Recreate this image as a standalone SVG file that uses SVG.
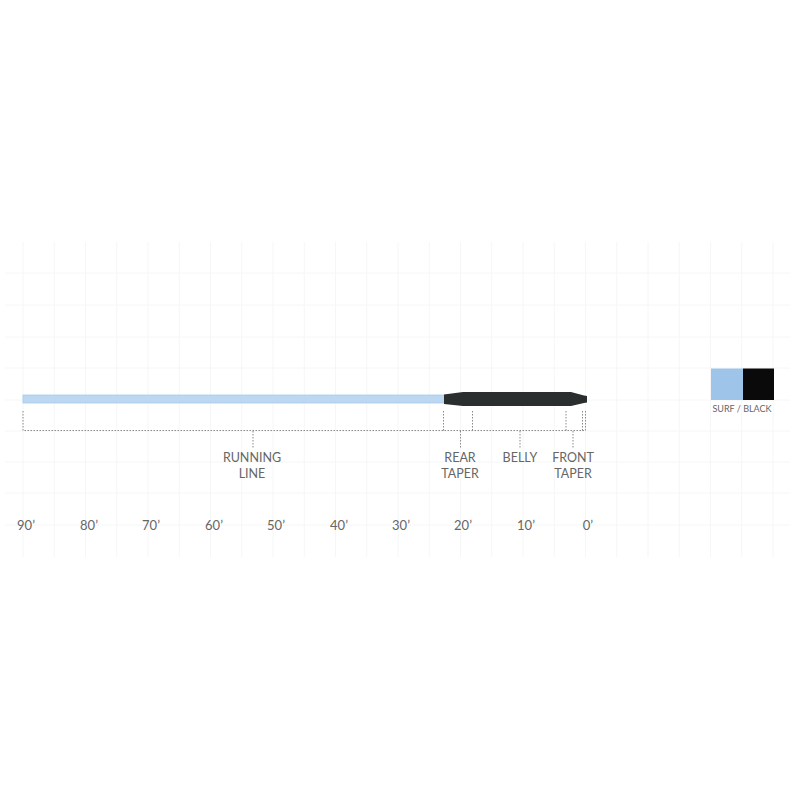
<svg xmlns="http://www.w3.org/2000/svg" width="800" height="800" viewBox="0 0 800 800">
<style>
.grid line{stroke:#f5f6f7;stroke-width:1}
.dot{stroke:#8a8a8a;stroke-width:1;stroke-dasharray:1.5 1.5;fill:none}
.lbl{font-family:Lato,"Noto Sans","Liberation Sans",sans-serif;font-size:12.5px;fill:#666;text-anchor:middle}
.ax{font-family:Lato,"Noto Sans","Liberation Sans",sans-serif;font-size:13px;fill:#666;text-anchor:middle}
.sw{font-family:Lato,"Noto Sans","Liberation Sans",sans-serif;font-size:9px;fill:#666;text-anchor:middle}
</style>
<rect width="800" height="800" fill="#fff"/>
<g class="grid">
<line x1="23" y1="242" x2="23" y2="557"/><line x1="54.25" y1="242" x2="54.25" y2="557"/><line x1="85.5" y1="242" x2="85.5" y2="557"/><line x1="116.75" y1="242" x2="116.75" y2="557"/><line x1="148" y1="242" x2="148" y2="557"/><line x1="179.25" y1="242" x2="179.25" y2="557"/><line x1="210.5" y1="242" x2="210.5" y2="557"/><line x1="241.75" y1="242" x2="241.75" y2="557"/><line x1="273" y1="242" x2="273" y2="557"/><line x1="304.25" y1="242" x2="304.25" y2="557"/><line x1="335.5" y1="242" x2="335.5" y2="557"/><line x1="366.75" y1="242" x2="366.75" y2="557"/><line x1="398" y1="242" x2="398" y2="557"/><line x1="429.25" y1="242" x2="429.25" y2="557"/><line x1="460.5" y1="242" x2="460.5" y2="557"/><line x1="491.75" y1="242" x2="491.75" y2="557"/><line x1="523" y1="242" x2="523" y2="557"/><line x1="554.25" y1="242" x2="554.25" y2="557"/><line x1="585.5" y1="242" x2="585.5" y2="557"/><line x1="616.75" y1="242" x2="616.75" y2="557"/><line x1="648" y1="242" x2="648" y2="557"/><line x1="679.25" y1="242" x2="679.25" y2="557"/><line x1="710.5" y1="242" x2="710.5" y2="557"/><line x1="741.75" y1="242" x2="741.75" y2="557"/><line x1="773" y1="242" x2="773" y2="557"/>
<line x1="5" y1="273" x2="790" y2="273"/><line x1="5" y1="305" x2="790" y2="305"/><line x1="5" y1="337" x2="790" y2="337"/><line x1="5" y1="368" x2="790" y2="368"/><line x1="5" y1="400" x2="790" y2="400"/><line x1="5" y1="431" x2="790" y2="431"/><line x1="5" y1="462" x2="790" y2="462"/><line x1="5" y1="493" x2="790" y2="493"/><line x1="5" y1="525" x2="790" y2="525"/>
</g>
<g id="line">
<rect x="23" y="395" width="423" height="8" fill="#bcd7f2" stroke="#a9c9ea" stroke-width="0.8"/>
<path d="M444,394.5 L463,392 L571,392 L584,395.5 L587,396 L587,402.5 L584,403 L571,406 L463,406 L444,404 Z" fill="#2b2e2e"/>
</g>
<g id="connectors">
<path class="dot" d="M23,411 V430.5 H585"/>
<path class="dot" d="M443.5,411 V430.5 M472.5,411 V430.5 M566,411 V430.5 M582.5,411 V430.5 M585.5,411 V430.5"/>
<path class="dot" d="M253,431 V448 M460.5,431 V448 M520,431 V448 M573,431 V448"/>
</g>
<g id="labels">
<text class="lbl" x="252" y="462">RUNNING</text>
<text class="lbl" x="252" y="478">LINE</text>
<text class="lbl" x="460" y="462">REAR</text>
<text class="lbl" x="460" y="478">TAPER</text>
<text class="lbl" x="520" y="462">BELLY</text>
<text class="lbl" x="573" y="462">FRONT</text>
<text class="lbl" x="573" y="478">TAPER</text>
</g>
<g id="axis">
<text class="ax" x="26" y="530">90’</text>
<text class="ax" x="89" y="530">80’</text>
<text class="ax" x="151" y="530">70’</text>
<text class="ax" x="214" y="530">60’</text>
<text class="ax" x="276" y="530">50’</text>
<text class="ax" x="339" y="530">40’</text>
<text class="ax" x="401" y="530">30’</text>
<text class="ax" x="463" y="530">20’</text>
<text class="ax" x="526" y="530">10’</text>
<text class="ax" x="588" y="530">0’</text>
</g>
<g id="swatch">
<rect x="711" y="368.5" width="32" height="31.5" fill="#9fc4ea"/>
<rect x="743" y="368.5" width="31" height="31.5" fill="#0a0a0a"/>
<text class="sw" x="742" y="411.5">SURF / BLACK</text>
</g>
</svg>
